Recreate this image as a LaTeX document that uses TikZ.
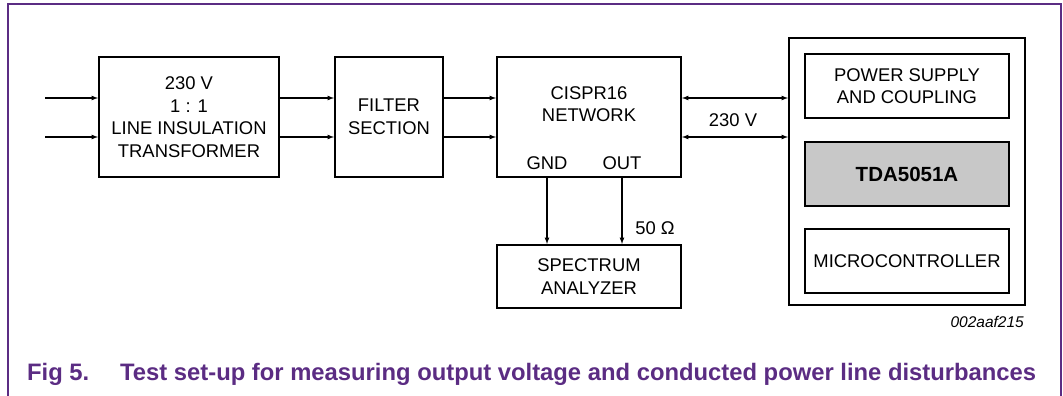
\documentclass[tikz,border=0pt]{standalone}
\usepackage{fontspec}
\setmainfont{Liberation Sans}
\usepackage{tikz}
\usetikzlibrary{arrows, positioning}
\definecolor{nxppurple}{RGB}{91, 44, 131}
\definecolor{chipgray}{RGB}{200, 200, 200}

\begin{document}
\begin{tikzpicture}[x=1pt, y=-1pt, font=\fontsize{18.4}{22.5}\selectfont]
        \tikzstyle{box} = [rectangle, draw=black, line width=2pt, minimum width=180pt, minimum height=120pt, align=center, inner sep=0pt]
        \tikzstyle{inner} = [box, minimum width=204pt, minimum height=64pt]
        \tikzstyle{arrow} = [line width=1.2pt,->,>=latex]
        \tikzstyle{link} = [line width=1.2pt,<->,>=latex]
        \tikzstyle{tag} = [inner sep=0pt, align=center]

        \useasboundingbox (0,0) rectangle (1063,396);
        \draw [nxppurple, line width=1.5pt] (8,396) -- (8,4) -- (1061,4) -- (1061,396);

        \node (trafo) [box] at (189,117) {230 V\\1 : 1\\LINE INSULATION\\TRANSFORMER};
        \node (filter) [box, minimum width=108pt, right=54pt of trafo] {FILTER\\SECTION};
        \node (cispr) [box, minimum width=184pt, right=52pt of filter] {};
        \node (spec) [box, minimum width=184pt, minimum height=63pt, below=66pt of cispr] {SPECTRUM\\ANALYZER};
        \node (outer) [box, minimum width=236pt, minimum height=267pt] at (907,171.5) {};
        \node (psu) [inner] at (907,86) {POWER SUPPLY\\AND COUPLING};
        \node (chip) [inner, fill=chipgray, font=\fontsize{20.5}{24}\bfseries, below=22pt of psu] {TDA5051A};
        \node (mcu) [inner, below=21pt of chip] {MICROCONTROLLER};

        \node (net) [tag] at ([yshift=13pt]cispr.center) {CISPR16\\NETWORK};
        \node (gnd) [tag] at (547,163) {GND};
        \node (out) [tag] at (622,163) {OUT};
        \node (ohm) [tag] at (655,228) {50 Ω};
        \node (mains) [tag] at (733,120) {230 V};

        \coordinate (in1) at (45,98);
        \coordinate (in2) at (45,137);

        \draw [arrow] (in1) -- (in1 -| trafo.west);
        \draw [arrow] (in2) -- (in2 -| trafo.west);
        \draw [arrow] ([yshift=19pt]trafo.east) -- ([yshift=19pt]filter.west);
        \draw [arrow] ([yshift=-20pt]trafo.east) -- ([yshift=-20pt]filter.west);
        \draw [arrow] ([yshift=19pt]filter.east) -- ([yshift=19pt]cispr.west);
        \draw [arrow] ([yshift=-20pt]filter.east) -- ([yshift=-20pt]cispr.west);
        \draw [link] ([yshift=19pt]cispr.east) -- ([yshift=19pt]cispr.east -| outer.west);
        \draw [link] ([yshift=-20pt]cispr.east) -- ([yshift=-20pt]cispr.east -| outer.west);
        \draw [arrow] (gnd |- cispr.south) -- (gnd |- spec.north);
        \draw [arrow] (out |- cispr.south) -- (out |- spec.north);

        \node (code) [tag, anchor=east, font=\fontsize{15.5}{18}\itshape] at (1024,322) {002aaf215};
        \node (fig) [tag, anchor=west, text=nxppurple, font=\fontsize{23.8}{28}\bfseries] at (27,374) {Fig 5.};
        \node (caption) [tag, anchor=west, text=nxppurple, font=\fontsize{23.8}{28}\bfseries] at (120,374) {Test set-up for measuring output voltage and conducted power line disturbances};
    \end{tikzpicture}
\end{document}
